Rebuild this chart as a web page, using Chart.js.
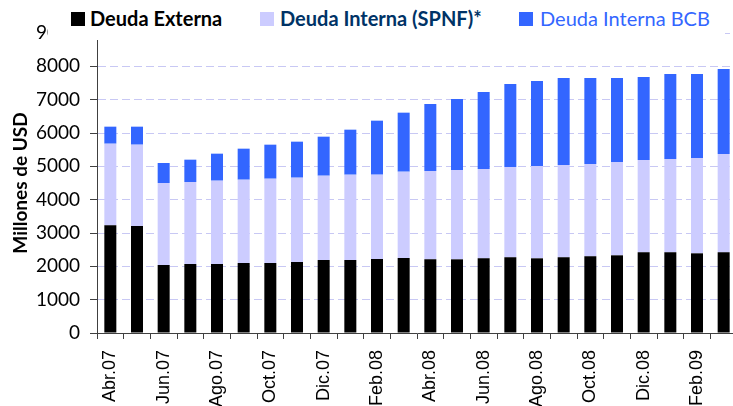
<!DOCTYPE html>
<html>
<head>
<meta charset="utf-8">
<script src="https://cdn.jsdelivr.net/npm/chart.js@4/dist/chart.umd.min.js"></script>
<style>
  html, body { margin: 0; padding: 0; background: #fff; overflow: hidden; }
  #wrap { position: relative; width: 737px; height: 406px; }
  #legend { position: absolute; left: 48px; top: 0; width: 677px; height: 40px; background: #fff; }
  #legend .box { position: absolute; top: 12px; width: 14px; height: 14px; }
  #legend .txt { position: absolute; top: 8px; font: 20px/20px Lato, sans-serif; white-space: nowrap; }
</style>
</head>
<body>
<div id="wrap">
  <canvas id="debtChart" width="737" height="406"></canvas>
  <div id="legend">
    <span class="box" style="left:23px;background:#000000"></span>
    <span class="txt" style="left:42px;font-weight:bold;color:#000000">Deuda Externa</span>
    <span class="box" style="left:212px;background:#ccccff"></span>
    <span class="txt" style="left:232px;font-weight:bold;color:#003366">Deuda Interna (SPNF)*</span>
    <span class="box" style="left:471px;background:#3366ff"></span>
    <span class="txt" style="left:492px;color:#3366ff">Deuda Interna BCB</span>
  </div>
</div>
<script>
// monthly, Abr.07 - Mar.09
const months = ['Abr.07', 'May.07', 'Jun.07', 'Jul.07', 'Ago.07', 'Sep.07', 'Oct.07', 'Nov.07',
    'Dic.07', 'Ene.08', 'Feb.08', 'Mar.08', 'Abr.08', 'May.08', 'Jun.08', 'Jul.08',
    'Ago.08', 'Sep.08', 'Oct.08', 'Nov.08', 'Dic.08', 'Ene.09', 'Feb.09', 'Mar.09'];
// only every other month gets a label
const tickLabels = months.map((m, i) => i % 2 === 0 ? m : '');

const deudaExterna = [3230, 3210, 2040, 2070, 2070, 2100, 2100, 2130, 2190, 2190, 2220, 2250,
    2210, 2210, 2240, 2270, 2240, 2270, 2300, 2330, 2420, 2420, 2390, 2420];
const deudaInternaSPNF = [2450, 2440, 2460, 2460, 2500, 2500, 2530, 2530, 2530, 2560, 2530, 2590,
    2650, 2680, 2680, 2710, 2770, 2770, 2770, 2800, 2770, 2800, 2860, 2950];
const deudaInternaBCB = [510, 540, 600, 670, 810, 930, 1020, 1080, 1170, 1350, 1620, 1770,
    2010, 2130, 2310, 2490, 2550, 2610, 2580, 2520, 2490, 2550, 2520, 2550];

const yTicks = [0, 1000, 2000, 3000, 4000, 5000, 6000, 7000, 8000, 9000];

const axisColor = '#404040';

const data = {
    labels: months,
    datasets: [{
        label: 'Deuda Externa',
        data: deudaExterna,
        backgroundColor: '#000000'
    },
    {
        label: 'Deuda Interna (SPNF)*',
        data: deudaInternaSPNF,
        backgroundColor: '#ccccff'
    },
    {
        label: 'Deuda Interna BCB',
        data: deudaInternaBCB,
        backgroundColor: '#3366ff'
    }]
};

const config = {
    type: 'bar',
    data: data,
    options: {
        responsive: false,
        animation: false,
        devicePixelRatio: 1,
        barPercentage: 0.45,
        categoryPercentage: 1,
        layout: { padding: { top: 33, left: 0, right: 0, bottom: 0 } },
        plugins: {
            legend: { display: false },
            tooltip: { enabled: false }
        },
        scales: {
            x: {
                stacked: true,
                afterFit: (scale) => {
                    scale.height = 73;
                    scale.paddingLeft = 0;
                    scale.paddingRight = 0;
                },
                grid: {
                    drawOnChartArea: false,
                    tickLength: 6,
                    tickColor: axisColor,
                    offset: true
                },
                border: { color: axisColor, width: 1 },
                ticks: {
                    autoSkip: false,
                    minRotation: 90,
                    maxRotation: 90,
                    padding: 11,
                    color: '#000',
                    font: { family: 'Liberation Sans, Arial, sans-serif', size: 18 },
                    callback: (v, i) => tickLabels[i]
                }
            },
            y: {
                stacked: true,
                min: 0,
                max: 9000,
                afterFit: (scale) => { scale.width = 97; },
                afterBuildTicks: (scale) => { scale.ticks = yTicks.map(v => ({ value: v })); },
                grid: {
                    color: '#c8c8f4',
                    lineWidth: 1,
                    tickLength: 7,
                    tickColor: axisColor,
                    tickBorderDash: []
                },
                border: { color: axisColor, width: 1, dash: [8, 4] },
                ticks: {
                    padding: 10,
                    color: '#000',
                    font: { family: 'Lato, sans-serif', size: 19 },
                    callback: (v) => String(v)
                },
                title: {
                    display: true,
                    text: 'Millones de USD',
                    color: '#000',
                    padding: { top: 9, bottom: 0 },
                    font: { family: 'Lato, sans-serif', size: 19, weight: 'bold' }
                }
            }
        }
    }
};
const debtChart = new Chart(document.getElementById('debtChart'), config);
</script>
</body>
</html>
